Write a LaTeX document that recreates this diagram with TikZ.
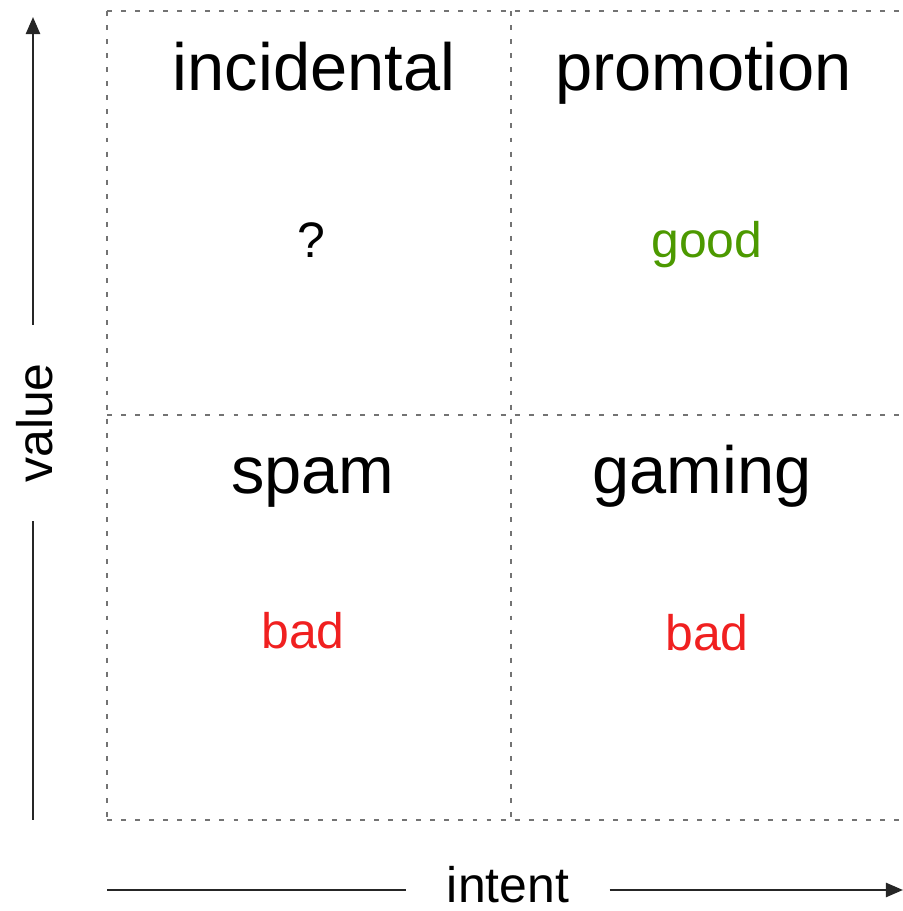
\documentclass[tikz,border=0pt]{standalone}
\usepackage{fontspec}
\setmainfont{Liberation Sans}
\usetikzlibrary{arrows.meta}
\definecolor{goodgreen}{RGB}{76,153,0}
\definecolor{badred}{RGB}{240,32,32}
\tikzset{
	grid line/.style={line width=0.5pt, color=black!55, dash pattern=on 1.4pt off 2.6pt},
	axis/.style={line width=0.7pt, color=black!85},
	axis arrow/.style={axis, -{Triangle[length=0.17cm, width=0.14cm]}},
	big label/.style={anchor=base, inner sep=0pt, font=\fontsize{19}{23}\selectfont},
	small label/.style={anchor=base, inner sep=0pt, font=\fontsize{14.2}{17}\selectfont},
}

\begin{document}
\begin{tikzpicture}
	%%%%% START %%%%%
	\useasboundingbox (0, 0) rectangle (9.03, 9.11);
	
	\draw[grid line] (1.07, 9.00) -- (9.03, 9.00);
	\draw[grid line] (1.07, 4.96) -- (9.03, 4.96);
	\draw[grid line] (1.07, 0.91) -- (9.03, 0.91);
	\draw[grid line] (1.07, 9.00) -- (1.07, 0.91);
	\draw[grid line] (5.11, 9.00) -- (5.11, 0.91);
	
	\node[big label] (incidental) at (3.14, 8.21) {incidental};
	\node[big label] (promotion) at (7.035, 8.21) {promotion};
	\node[small label] (unknown) at (3.11, 6.54) {?};
	\node[small label, color=goodgreen] (good) at (7.07, 6.54) {good};
	
	\node[big label] (spam) at (3.13, 4.18) {spam};
	\node[big label] (gaming) at (7.02, 4.18) {gaming};
	\node[small label, color=badred] (spambad) at (3.03, 2.63) {bad};
	\node[small label, color=badred] (gamingbad) at (7.07, 2.61) {bad};
	
	% value axis
	\coordinate (vbot) at (0.33, 0.91);
	\coordinate (vtop) at (0.33, 8.94);
	\node[rotate=90, inner sep=0pt, inner xsep=0.38cm, font=\fontsize{14.2}{17}\selectfont] (value) at (0.35, 4.88) {value};
	\draw[axis] (vbot) -- (vbot |- value.west);
	\draw[axis arrow] (vbot |- value.east) -- (vtop);
	
	% intent axis
	\coordinate (ileft) at (1.07, 0.21);
	\coordinate (iright) at (9.03, 0.21);
	\node[small label, inner xsep=0.4cm] (intent) at (5.08, 0.08) {intent};
	\draw[axis] (ileft) -- (ileft -| intent.west);
	\draw[axis arrow] (ileft -| intent.east) -- (iright);
	
	%%%%% END %%%%%
\end{tikzpicture}
\end{document}
